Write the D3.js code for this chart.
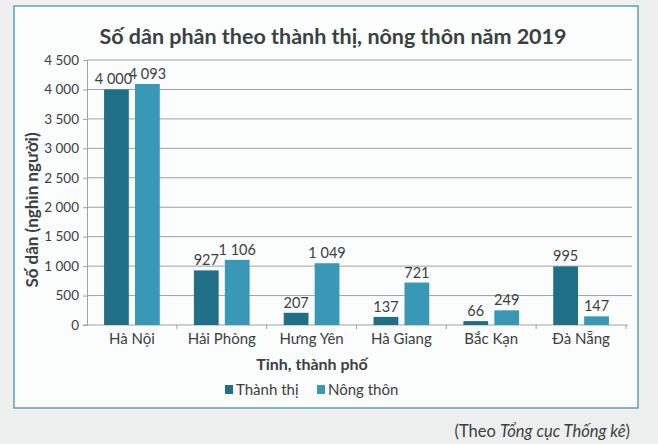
<!DOCTYPE html>
<html><head><meta charset="utf-8">
<script src="https://cdn.jsdelivr.net/npm/d3@7"></script>
<style>
html,body{margin:0;padding:0;background:#eef0ef;}
svg{display:block;}
text{font-family:Lato,"Open Sans",sans-serif;}
</style></head>
<body>
<svg id="chart" width="658" height="444"></svg>
<script>
const categories = ["Hà Nội","Hải Phòng","Hưng Yên","Hà Giang","Bắc Kạn","Đà Nẵng"];
const seriesNames = ["Thành thị","Nông thôn"];
const thanhThi = [4000, 927, 207, 137, 66, 995];
const nongThon = [4093, 1106, 1049, 721, 249, 147];
const yTicks = [0,500,1000,1500,2000,2500,3000,3500,4000,4500];
const colors = ["#1f6f86","#3898b6"];

(function(){
const fmt = v => d3.format(",")(v).replace(/,/g, " ");
const svg = d3.select("#chart");

svg.append("rect").attr("x",14).attr("y",6).attr("width",624).attr("height",402)
  .attr("fill","#fbfcfc").attr("stroke","#5f9fb5").attr("stroke-width",1.5);

const pL = 87, pR = 626, pT = 60, pB = 325;
const x0 = d3.scaleBand().domain(categories).range([pL, pR]).paddingInner(0.38).paddingOuter(0.19);
const x1 = d3.scaleBand().domain(seriesNames).range([0, x0.bandwidth()]).paddingInner(0.2);
const y = d3.scaleLinear().domain([0,4500]).range([pB, pT]);

svg.append("g").selectAll("line").data(yTicks.filter(d=>d>0)).join("line")
  .attr("x1",pL).attr("x2",632).attr("y1",d=>y(d)).attr("y2",d=>y(d))
  .attr("stroke","#9aa3a5").attr("stroke-width",1);

const yAxis = svg.append("g").attr("transform",`translate(${pL},0)`)
  .call(d3.axisLeft(y).tickValues(yTicks).tickFormat(fmt).tickSize(4).tickPadding(4));
yAxis.select(".domain").attr("stroke","#9aa3a5");
yAxis.selectAll(".tick line").attr("stroke","#9aa3a5");
yAxis.selectAll("text").attr("font-size",13.5).attr("fill","#3a3f40").attr("font-family","Lato, sans-serif");

const bandTicks = d3.scaleBand().domain(categories).range([pL,pR]);
const xAxisG = svg.append("g").attr("transform",`translate(0,${pB})`);
xAxisG.append("line").attr("x1",pL-4).attr("x2",pR+2).attr("stroke","#9aa3a5");
xAxisG.selectAll("line.t").data(categories).join("line").attr("class","t")
  .attr("x1",d=>bandTicks(d)+bandTicks.bandwidth()).attr("x2",d=>bandTicks(d)+bandTicks.bandwidth())
  .attr("y1",0).attr("y2",4).attr("stroke","#9aa3a5");
xAxisG.selectAll("text").data(categories).join("text")
  .attr("x",d=>x0(d)+x0.bandwidth()/2).attr("y",19).attr("text-anchor","middle")
  .attr("font-size",15).attr("fill","#3a3f40").text(d=>d);

const rows = categories.map((c,i)=>({cat:c, vals:[thanhThi[i], nongThon[i]]}));
const g = svg.append("g").selectAll("g").data(rows).join("g")
  .attr("transform",d=>`translate(${x0(d.cat)},0)`);
g.selectAll("rect").data(d=>d.vals.map((v,j)=>({s:seriesNames[j],v,j}))).join("rect")
  .attr("x",d=>x1(d.s)).attr("width",x1.bandwidth())
  .attr("y",d=>y(d.v)).attr("height",d=>pB-y(d.v)).attr("fill",d=>colors[d.j]);
g.selectAll("text").data(d=>d.vals.map((v,j)=>({s:seriesNames[j],v,j}))).join("text")
  .attr("x",d=>x1(d.s)+x1.bandwidth()/2 + (d.j===0 && d.v>3000 ? -3 : 0)).attr("y",d=>y(d.v)-5)
  .attr("text-anchor","middle").attr("font-size",14.5).attr("fill","#3a3f40").text(d=>fmt(d.v));

svg.append("text").attr("x",333).attr("y",44).attr("text-anchor","middle")
  .attr("font-size",21.5).attr("font-weight","bold").attr("fill","#3a4142")
  .text("Số dân phân theo thành thị, nông thôn năm 2019");

svg.append("text").attr("transform","translate(38,210) rotate(-90)").attr("text-anchor","middle")
  .attr("font-size",17).attr("font-weight","bold").attr("fill","#3a4142")
  .text("Số dân (nghìn người)");

svg.append("text").attr("x",312).attr("y",370).attr("text-anchor","middle")
  .attr("font-size",16).attr("font-weight","bold").attr("fill","#3a4142")
  .text("Tỉnh, thành phố");

const legX = [225, 317];
const leg = svg.append("g").selectAll("g").data(seriesNames).join("g")
  .attr("transform",(d,i)=>`translate(${legX[i]},385)`);
leg.append("rect").attr("width",8).attr("height",9).attr("fill",(d,i)=>colors[i]);
leg.append("text").attr("x",11).attr("y",9.5).attr("font-size",15).attr("fill","#3a3f40").text(d=>d);

const src = svg.append("text").attr("x",630).attr("y",437).attr("text-anchor","end")
  .attr("font-size",16.5).attr("fill","#3a3f40");
src.append("tspan").text("(Theo ");
src.append("tspan").attr("font-style","italic").text("Tổng cục Thống kê");
src.append("tspan").text(")");
})();
</script>
</body></html>
